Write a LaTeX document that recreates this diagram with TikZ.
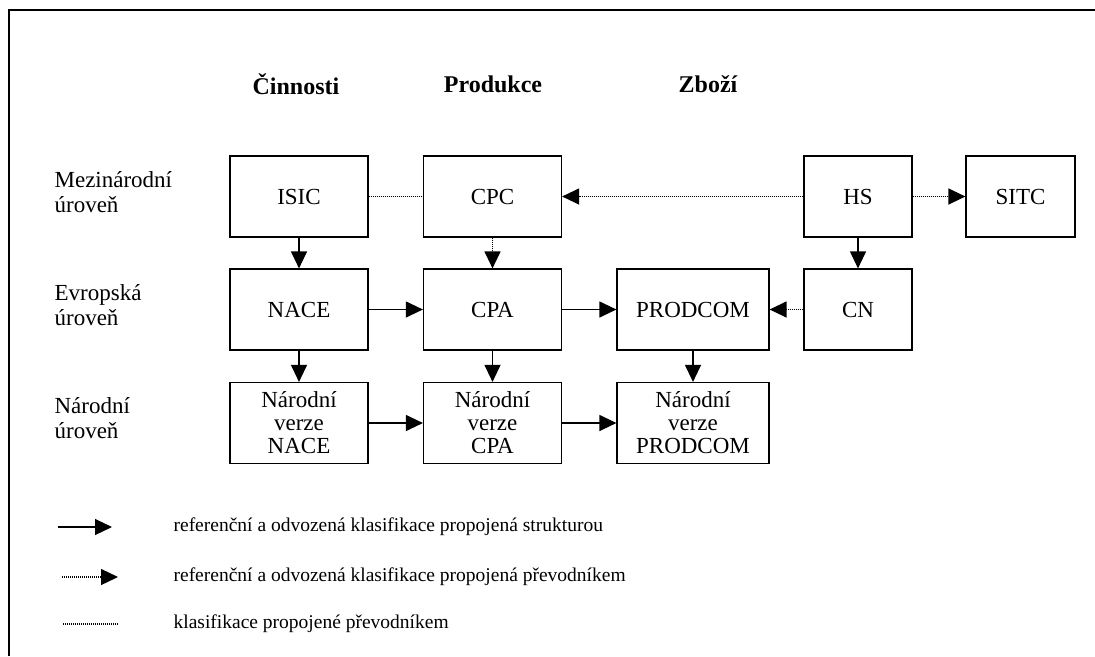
\documentclass[tikz,border=0pt]{standalone}
\usepackage{fontspec}
\setmainfont{Liberation Serif}
\usetikzlibrary{arrows.meta}

\begin{document}
\begin{tikzpicture}[x=1pt, y=-1pt, line width=1.2pt,
      every node/.append style={font=\fontsize{23}{23}\selectfont, inner sep=0pt},
      arr/.style={-{Triangle[length=17pt,width=16pt]}},
      dotline/.style={dash pattern=on 1pt off 1pt, line width=1.3pt}]
    \tikzstyle{box} = [draw, align=center, minimum height=81pt, minimum width=138pt]
    \tikzstyle{tier} = [anchor=west, align=left, font=\fontsize{23}{25}\selectfont]
    \tikzstyle{head} = [font=\fontsize{24}{24}\selectfont\bfseries]
    \tikzstyle{legend} = [anchor=west, font=\fontsize{19.5}{21}\selectfont]
    \useasboundingbox (0,0) rectangle (1095,656);
    \draw[line width=1.5pt] (9,656) -- (9,10) -- (1095,10);
    % columns and levels
    \node[head] (hAct) at (296,84) {Činnosti};
    \node[head] (hProd) at (493,84) {Produkce};
    \node[head] (hGoods) at (708,84) {Zboží};
    \node[tier] (tInt) at (54,192) {Mezinárodní\\úroveň};
    \node[tier] (tEur) at (54,305) {Evropská\\úroveň};
    \node[tier] (tNat) at (54,418) {Národní\\úroveň};
    % classifications
    \node[box] (isic) at (299,196.5) {ISIC};
    \node[box] (cpc) at (492.5,196.5) {CPC};
    \node[box, minimum width=108pt] (hs) at (858,196.5) {HS};
    \node[box, minimum width=109pt] (sitc) at (1020.5,196.5) {SITC};
    \node[box] (nace) at (299,309.5) {NACE};
    \node[box] (cpa) at (492.5,309.5) {CPA};
    \node[box, minimum width=152pt] (prodcom) at (693,309.5) {PRODCOM};
    \node[box, minimum width=108pt] (cn) at (858,309.5) {CN};
    \node[box] (natNace) at (299,423) {Národní\\verze\\NACE};
    \node[box] (natCpa) at (492.5,423) {Národní\\verze\\CPA};
    \node[box, minimum width=152pt] (natProdcom) at (693,423) {Národní\\verze\\PRODCOM};
    % links
    \draw[dotline] (isic) -- (cpc);
    \draw[dotline, arr] (hs) -- (cpc);
    \draw[dotline, arr] (hs) -- (sitc);
    \draw[arr] (isic) -- (nace);
    \draw[dotline, arr] (cpc) -- (cpa);
    \draw[arr] (hs) -- (cn);
    \draw[arr] (nace) -- (cpa);
    \draw[arr] (cpa) -- (prodcom);
    \draw[dotline, arr] (cn) -- (prodcom);
    \draw[arr] (nace) -- (natNace);
    \draw[arr] (cpa) -- (natCpa);
    \draw[arr] (prodcom) -- (natProdcom);
    \draw[arr] (natNace) -- (natCpa);
    \draw[arr] (natCpa) -- (natProdcom);
    % legend
    \coordinate (k1a) at (58,527); \coordinate (k1b) at (112,527);
    \coordinate (k2a) at (62,577); \coordinate (k2b) at (118,577);
    \coordinate (k3a) at (63,624); \coordinate (k3b) at (118,624);
    \draw[arr] (k1a) -- (k1b);
    \draw[dotline, arr] (k2a) -- (k2b);
    \draw[dotline] (k3a) -- (k3b);
    \node[legend] (lStruct) at (173,527) {referenční a odvozená klasifikace propojená strukturou};
    \node[legend] (lConvArr) at (173,577) {referenční a odvozená klasifikace propojená převodníkem};
    \node[legend] (lConv) at (173,624) {klasifikace propojené převodníkem};
\end{tikzpicture}
\end{document}
